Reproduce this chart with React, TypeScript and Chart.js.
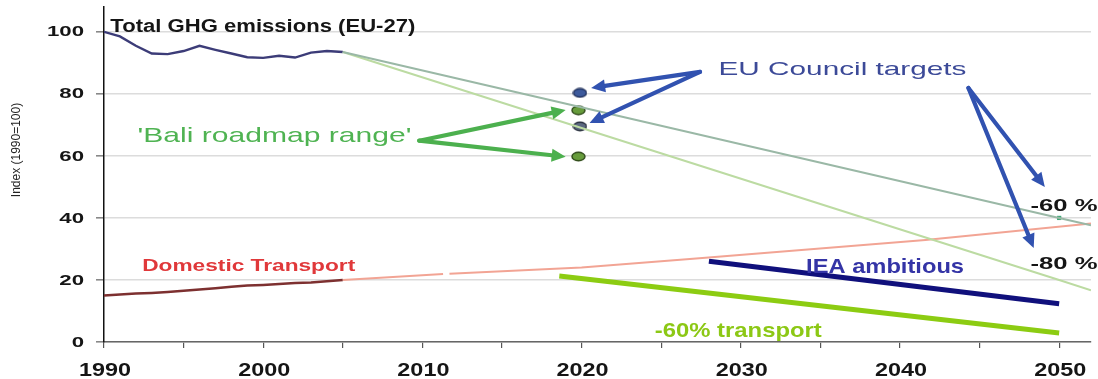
import React, { useEffect, useRef } from 'react';
import { Chart, registerables } from 'chart.js';

Chart.register(...registerables);

// ---------- Data ----------
const ghgYears = [1990, 1991, 1992, 1993, 1994, 1995, 1996, 1997, 1998, 1999, 2000, 2001, 2002, 2003, 2004, 2005];
const ghgValues = [100, 98.5, 95.5, 93, 92.8, 93.8, 95.5, 94.2, 93, 91.8, 91.6, 92.3, 91.7, 93.3, 93.8, 93.5];

const transportYears = [1990, 1991, 1992, 1993, 1994, 1995, 1996, 1997, 1998, 1999, 2000, 2001, 2002, 2003, 2004, 2005];
const transportValues = [15, 15.3, 15.6, 15.8, 16.1, 16.5, 16.9, 17.3, 17.8, 18.2, 18.4, 18.7, 19.0, 19.2, 19.6, 20.0];

const transportProjYearsA = [2005, 2011.3];
const transportProjValuesA = [20, 21.9];
const transportProjYearsB = [2011.7, 2020, 2027, 2041.6, 2052];
const transportProjValuesB = [22.0, 24.0, 26.8, 32.9, 38.2];

const targetYears = [2005, 2050, 2052];
const target60Values = [93.5, 40, 37.6];
const target80Values = [93.5, 20, 16.7];

const ieaYears = [2028, 2050];
const ieaValues = [26, 12.3];

const transport60Years = [2018.6, 2050];
const transport60Values = [21.3, 2.9];

const councilYears = [2019.9, 2019.9];
const councilValues = [80.3, 69.5];
const baliYears = [2019.8, 2019.8];
const baliValues = [74.7, 59.8];
const council2050Years = [2050];
const council2050Values = [40];

const xTickValues = [1990, 1995, 2000, 2005, 2010, 2015, 2020, 2025, 2030, 2035, 2040, 2045, 2050];
const xTickLabels = ['1990', '', '2000', '', '2010', '', '2020', '', '2030', '', '2040', '', '2050'];
const yTickValues = [0, 20, 40, 60, 80, 100];
const yTickLabels = ['0', '20', '40', '60', '80', '100'];

const yAxisTitle = 'Index (1990=100)';

// annotation texts (anchored in data coordinates)
const labelTexts = [
  "Total GHG emissions (EU-27)",
  "'Bali roadmap range'",
  'EU Council targets',
  'Domestic Transport',
  'IEA ambitious',
  '-60% transport',
  '-60 %',
  '-80 %',
];
const labelYears = [1990.4, 1992.1, 2028.6, 1992.4, 2034.1, 2024.6, 2048.2, 2048.2];
const labelValues = [101.6, 66.5, 87.7, 24.2, 24.2, 3.6, 43.9, 25.2];

// arrows (tail -> head) in data coordinates
const arrowFromYears = [2027.44, 2027.44, 2044.3, 2044.3, 2009.8, 2009.8];
const arrowFromValues = [87.1, 87.1, 81.9, 81.9, 64.9, 64.9];
const arrowToYears = [2020.6, 2020.5, 2049.1, 2048.4, 2019.0, 2019.0];
const arrowToValues = [81.9, 70.6, 50.0, 30.3, 74.8, 59.7];

// ---------- Styles ----------
const FONT = "'Liberation Sans', Arial, sans-serif";
const labelStyles = [
  { font: `bold 18px ${FONT}`, color: '#151515', width: 305 },
  { font: `21px ${FONT}`, color: '#4fb352', width: 274 },
  { font: `19px ${FONT}`, color: '#3c4a98', width: 248 },
  { font: `bold 16px ${FONT}`, color: '#e0383a', width: 213 },
  { font: `bold 21px ${FONT}`, color: '#3434a6', width: 158 },
  { font: `bold 21px ${FONT}`, color: '#8cc815', width: 167 },
  { font: `bold 17px ${FONT}`, color: '#151515', width: 67 },
  { font: `bold 17px ${FONT}`, color: '#151515', width: 67 },
];
const arrowColors = ['#3152b0', '#3152b0', '#3152b0', '#3152b0', '#4cb04e', '#4cb04e'];

function pts(xs: number[], ys: number[]) {
  return xs.map((x, i) => ({ x, y: ys[i] }));
}

function makeEllipse(fill: string, stroke: string) {
  const c = document.createElement('canvas');
  c.width = 15;
  c.height = 11;
  const g = c.getContext('2d')!;
  g.beginPath();
  g.ellipse(7.5, 5.5, 6.5, 4.2, 0, 0, Math.PI * 2);
  g.fillStyle = fill;
  g.fill();
  g.lineWidth = 1.4;
  g.strokeStyle = stroke;
  g.stroke();
  return c;
}

function drawStretched(
  ctx: CanvasRenderingContext2D,
  text: string,
  x: number,
  y: number,
  font: string,
  color: string,
  opts: { width?: number; stretch?: number; align?: 'left' | 'center' | 'right' }
) {
  ctx.save();
  ctx.font = font;
  ctx.fillStyle = color;
  ctx.textBaseline = 'middle';
  ctx.textAlign = 'left';
  const w = ctx.measureText(text).width;
  const s = opts.width ? opts.width / w : opts.stretch || 1;
  const total = w * s;
  const align = opts.align || 'left';
  const left = align === 'left' ? x : align === 'center' ? x - total / 2 : x - total;
  ctx.translate(left, y);
  ctx.scale(s, 1);
  ctx.fillText(text, 0, 0);
  ctx.restore();
}

function drawArrow(ctx: CanvasRenderingContext2D, x1: number, y1: number, x2: number, y2: number, color: string) {
  const head = 14;
  const half = 6.5;
  const a = Math.atan2(y2 - y1, x2 - x1);
  const bx = x2 - head * Math.cos(a);
  const by = y2 - head * Math.sin(a);
  ctx.save();
  ctx.strokeStyle = color;
  ctx.fillStyle = color;
  ctx.lineWidth = 4.2;
  ctx.lineCap = 'round';
  ctx.beginPath();
  ctx.moveTo(x1, y1);
  ctx.lineTo(bx, by);
  ctx.stroke();
  ctx.beginPath();
  ctx.moveTo(x2, y2);
  ctx.lineTo(bx - half * Math.sin(a), by + half * Math.cos(a));
  ctx.lineTo(bx + half * Math.sin(a), by - half * Math.cos(a));
  ctx.closePath();
  ctx.fill();
  ctx.restore();
}

const overlayPlugin = {
  id: 'overlay',
  afterDatasetsDraw(chart: any) {
    const ctx: CanvasRenderingContext2D = chart.ctx;
    const xs = chart.scales.x;
    const ys = chart.scales.y;

    // arrows
    for (let i = 0; i < arrowFromYears.length; i++) {
      drawArrow(
        ctx,
        xs.getPixelForValue(arrowFromYears[i]),
        ys.getPixelForValue(arrowFromValues[i]),
        xs.getPixelForValue(arrowToYears[i]),
        ys.getPixelForValue(arrowToValues[i]),
        arrowColors[i]
      );
    }

    // annotation texts
    for (let i = 0; i < labelTexts.length; i++) {
      const st = labelStyles[i];
      drawStretched(
        ctx,
        labelTexts[i],
        xs.getPixelForValue(labelYears[i]),
        ys.getPixelForValue(labelValues[i]),
        st.font,
        st.color,
        { width: st.width }
      );
    }

    // x tick labels
    xTickValues.forEach((v, i) => {
      if (!xTickLabels[i]) return;
      drawStretched(ctx, xTickLabels[i], xs.getPixelForValue(v) + 1, xs.bottom - 8, `bold 18px ${FONT}`, '#151515', {
        stretch: 1.3,
        align: 'center',
      });
    });

    // y tick labels
    yTickValues.forEach((v, i) => {
      drawStretched(ctx, yTickLabels[i], xs.left - 20, ys.getPixelForValue(v) + 0.5, `bold 15px ${FONT}`, '#151515', {
        stretch: 1.48,
        align: 'right',
      });
    });

    // y axis title
    ctx.save();
    ctx.translate(17, 150);
    ctx.rotate(-Math.PI / 2);
    ctx.font = `12px ${FONT}`;
    ctx.fillStyle = '#222';
    ctx.textAlign = 'center';
    ctx.textBaseline = 'middle';
    ctx.fillText(yAxisTitle, 0, 0);
    ctx.restore();
  },
};

export default function App() {
  const ref = useRef<HTMLCanvasElement | null>(null);

  useEffect(() => {
    if (!ref.current) return;
    const blueEllipse = makeEllipse('#3d5a9c', '#1f2f5a');
    const greyEllipse = makeEllipse('#5b6880', '#2b3240');
    const greenEllipse = makeEllipse('#679c3c', '#2f4a1a');

    const line = (data: any, color: string, width: number) => ({
      type: 'line' as const,
      data,
      borderColor: color,
      backgroundColor: color,
      borderWidth: width,
      pointRadius: 0,
      tension: 0,
      fill: false,
      borderCapStyle: 'butt' as const,
    });

    const chart = new Chart(ref.current, {
      type: 'line',
      data: {
        datasets: [
          line(pts(targetYears, target60Values), '#9ab8a6', 2),
          line(pts(targetYears, target80Values), '#bcdba2', 2),
          line(pts(transportProjYearsA, transportProjValuesA), '#f2a494', 2),
          line(pts(transportProjYearsB, transportProjValuesB), '#f2a494', 2),
          line(pts(ghgYears, ghgValues), '#3c3c78', 2.4),
          line(pts(transportYears, transportValues), '#7d3030', 2.5),
          line(pts(ieaYears, ieaValues), '#10107c', 5),
          line(pts(transport60Years, transport60Values), '#8ccc12', 5),
          {
            type: 'scatter' as const,
            data: pts(councilYears, councilValues),
            pointStyle: [blueEllipse, greyEllipse] as any,
            pointRadius: 6,
            showLine: false,
          },
          {
            type: 'scatter' as const,
            data: pts(baliYears, baliValues),
            pointStyle: greenEllipse as any,
            pointRadius: 6,
            showLine: false,
          },
          {
            type: 'scatter' as const,
            data: pts(council2050Years, council2050Values),
            pointStyle: 'rect',
            pointRadius: 3,
            backgroundColor: '#3fa877',
            borderColor: '#3fa877',
            borderWidth: 0,
            showLine: false,
          },
        ] as any,
      },
      options: {
        responsive: false,
        animation: false,
        devicePixelRatio: 1,
        layout: { padding: { left: 0, right: 2, top: 7, bottom: 0 } },
        plugins: {
          legend: { display: false },
          tooltip: { enabled: false },
          title: { display: false },
        },
        scales: {
          x: {
            type: 'linear',
            min: 1990,
            max: 2052,
            afterBuildTicks: (s: any) => {
              s.ticks = xTickValues.map((v) => ({ value: v }));
            },
            afterFit: (s: any) => {
              s.height = 37;
            },
            ticks: { display: false },
            grid: { drawOnChartArea: false, drawTicks: true, tickLength: 6, color: '#555', lineWidth: 1.2 },
            border: { display: true, color: '#666', width: 1.5 },
          },
          y: {
            type: 'linear',
            min: 0,
            max: 108,
            afterBuildTicks: (s: any) => {
              s.ticks = yTickValues.map((v) => ({ value: v }));
            },
            afterFit: (s: any) => {
              s.width = 104;
            },
            ticks: { display: false },
            grid: { color: '#dcdcdc', lineWidth: 1.6, drawTicks: true, tickLength: 8, tickColor: '#888' },
            border: { display: true, color: '#111', width: 1.5 },
          },
        },
      } as any,
      plugins: [overlayPlugin],
    });
    return () => chart.destroy();
  }, []);

  return (
    <div style={{ position: 'fixed', left: 0, top: 0, width: 1098, height: 379, background: '#fff' }}>
      <canvas ref={ref} width={1098} height={379} style={{ display: 'block' }} />
    </div>
  );
}
